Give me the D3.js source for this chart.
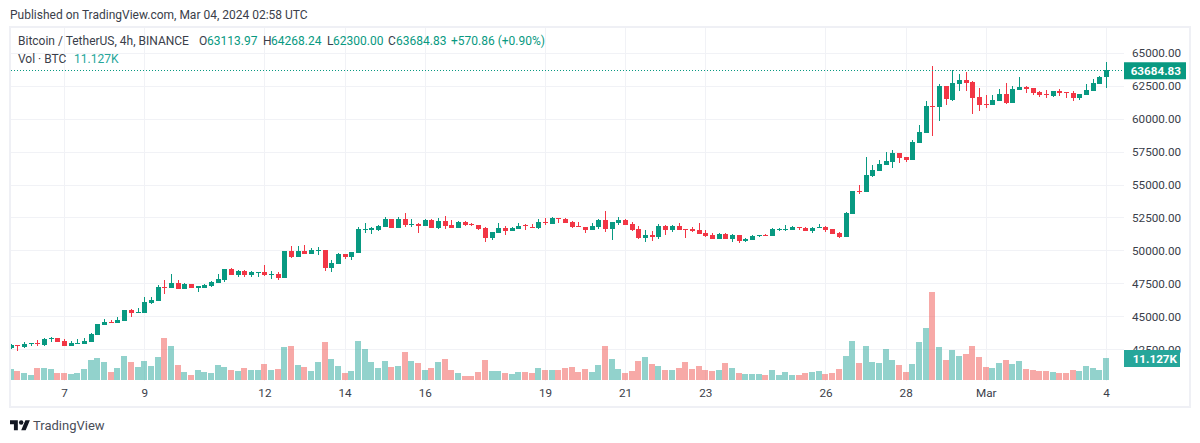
<!DOCTYPE html>
<html>
<head>
<meta charset="utf-8">
<title>BTCUSDT 4h</title>
<script src="https://cdn.jsdelivr.net/npm/d3@7"></script>
<style>
  html, body { margin: 0; padding: 0; background: #fff; }
  svg { display: block; }
  text { font-family: Roboto, sans-serif; }
</style>
</head>
<body>
<div id="chart"></div>
<script>
// 4h candles, oldest first
const opens = [42625,42800,42680,42900,42980,42850,43300,43360,43130,42750,
  42930,42900,43055,43590,44340,44570,44500,44650,45480,45250,
  45250,46010,46160,47220,47150,47520,47070,47450,47170,47150,
  47300,47520,47750,48590,48130,48430,48130,48330,48360,48130,
  48200,47900,49950,49500,49950,49720,49950,50030,48660,48960,
  49720,49500,49800,51540,51540,51540,51770,52370,51690,52370,
  51920,52000,51840,52300,51690,52220,51920,51690,52150,52000,
  51920,51690,50930,51310,51690,51460,51620,51920,51770,51690,
  52150,52000,52450,52370,52150,51840,51770,51540,51770,52300,
  51620,52070,52300,52000,51620,50930,51160,51010,51840,51540,
  51840,51620,51620,51540,51310,51160,50860,51240,50860,51160,
  50710,50780,51090,51160,51090,51540,51540,51540,51770,51690,
  51460,51690,51770,51620,51310,51010,52760,54490,54420,55640,
  56020,56470,56700,57390,57080,56850,58150,58910,60970,60890,
  62490,61430,62650,62950,62800,61650,61120,61050,61350,61880,
  61200,62190,62420,62340,62040,61880,61730,62110,62040,61960,
  61580,61810,62110,62650,63113.97];
const highs = [42900,42800,43030,42950,43180,43360,43460,43360,43260,43130,
  43260,43330,43710,44420,44800,44720,44950,45480,45550,45630,
  46440,46440,47370,47750,48200,47750,47520,47450,47270,47450,
  47680,48200,48590,48660,48510,48510,48430,48400,48890,48430,
  48360,49950,50330,50330,50400,50180,50250,50030,49270,49800,
  49720,49870,51770,52070,51770,51920,52520,52370,52520,52830,
  52370,52070,52370,52370,52450,52600,52300,52220,52220,52070,
  51920,51770,51390,52070,51840,51770,52070,52000,52000,52370,
  52450,52520,52450,52450,52220,52150,51770,52070,52370,52980,
  52150,52520,52370,52150,51840,51540,51460,51990,51920,51920,
  52070,51620,51770,52070,51540,51310,51310,51310,51240,51160,
  50930,51160,51160,51240,51690,51690,51920,51840,51770,51770,
  51770,52000,51840,51620,51390,52900,54490,54950,57080,56470,
  56850,57460,57620,57390,57080,58380,59520,61350,64020,62650,
  62490,63710,63410,63560,62870,62340,61810,61810,62260,62720,
  62490,63180,62490,62340,62110,62190,62110,62260,62040,62110,
  61880,62650,63030,63250,64268.24];
const lows = [42500,42400,42600,42750,42750,42750,43080,43055,42750,42750,
  42930,42900,43055,43590,44340,44500,44500,44650,44950,45250,
  45250,45930,46160,46700,47150,47070,47070,47150,46840,47150,
  47220,47520,47600,48130,47980,47980,47980,47980,48050,47830,
  47750,47900,49420,49500,49720,49720,49650,48430,48360,48960,
  49340,49270,49800,51310,51240,51460,51770,51690,51690,51770,
  51770,51310,51840,51690,51620,51620,51690,51690,51840,51840,
  51540,50630,50780,51310,51160,51460,51620,51540,51690,51620,
  51920,52000,52070,52070,51690,51770,51310,51540,51620,51390,
  50780,51920,51920,51460,50860,50630,50710,50860,51160,51390,
  51540,50930,51390,51240,51010,50860,50860,50860,50630,50550,
  50630,50780,51010,51090,51090,51460,51460,51540,51540,51460,
  51310,51690,51390,51240,50930,51010,52760,54260,54420,55560,
  56020,56470,56240,56630,56700,56850,58150,58910,58680,59830,
  61050,61350,62110,62110,60360,60590,60820,61050,61350,61120,
  61200,62190,61960,61810,61650,61580,61650,61730,61580,61350,
  61430,61810,62110,62650,62300];
const closes = [42828,42760,42880,42950,42900,43260,43350,43055,42750,42950,
  42980,43130,43640,44420,44600,44500,44720,45480,45250,45330,
  46080,46240,47220,47150,47520,47070,47450,47150,47270,47370,
  47600,47830,48590,48130,48430,48130,48360,48400,48130,48200,
  47900,49950,49500,49950,49720,50030,50030,48660,49040,49720,
  49500,49870,51620,51620,51690,51840,52370,51690,52370,51920,
  52000,51840,52300,51690,52220,51840,51690,52150,51920,51920,
  51620,50930,51390,51690,51460,51690,51840,51840,51690,52150,
  52070,52450,52370,52070,51770,51770,51540,51840,52300,51620,
  52150,52300,51920,51540,50930,51160,51010,51840,51540,51840,
  51540,51540,51460,51240,51090,50860,51240,50860,51160,50710,
  50860,51090,51160,51090,51620,51620,51620,51770,51690,51460,
  51690,51770,51540,51240,51010,52840,54490,54420,55710,56090,
  56550,56780,57390,57010,56850,58230,58990,60970,60890,62490,
  61500,62720,62950,62720,61580,61050,61050,61430,61880,61200,
  62260,62420,62260,61960,61810,61810,62110,61960,61960,61580,
  61880,62190,62720,63180,63684.83];
// volume in thousands of BTC
const volumes = [5.5,4.5,3.5,2.5,6,6,5.5,3.5,3.5,3,
  3.5,5.5,10,11,9,4,6,12,9,6.5,
  9.5,7,11.5,21,17,7.5,4,2.5,5,4,
  3.5,7.5,6.5,5,4.5,6,5,5,8,5,
  5.5,16.5,17,7.5,6.5,4.5,9,19,10.5,7,
  3.5,4.5,19.5,15.5,9,6,9.5,6.5,7,14,
  9.5,8.5,5,6,9,10.5,5,3.5,2,2,
  4,10,4.5,4.5,3.5,3,4,4,3.5,6,
  5,5,5,6,6.5,4,5.5,4,7.5,17,
  10.5,5.5,3.5,4.5,9.5,11.5,8,7,5,5,
  6,9,5.5,7,5,4.5,5,8.5,6,3.5,
  3,3,3,2.5,5,2.5,4,2.5,2.5,3.5,
  4,4.5,3,3.5,5.5,12,19.5,8.5,17,9,
  8.5,15.5,10,7.5,4,8,19,26,44,16.5,
  10,15,12,13,17,11.5,6.5,6,8.5,10,
  8,9.5,5.5,5,4.5,4.5,4,3.5,3.5,5,
  4.5,7,6,5,11.127];

// candle index of each day label on the time axis
const dayIndex = [8,20,38,50,62,80,92,104,122,134,146,164];
const dayLabels = ["7","9","12","14","16","19","21","23","26","28","Mar","4"];
const priceTicks = [65000,62500,60000,57500,55000,52500,50000,47500,45000,42500];

const lastClose = 63684.83;
const w = 1200, h = 443;
const plotLeft = 11, plotTop = 28, plotRight = 1124, frameRight = 1190, volBase = 380, frameBottom = 407;
const fontPx = 11.7;

const upColor = "#089981", downColor = "#f23645";
const upVol = "rgba(38,166,154,0.5)", downVol = "rgba(239,83,80,0.5)";
const gridColor = "#f1f2f6", frameColor = "#eff0f5", textColor = "#3a3e4a";

const x = d3.scaleLinear().domain([0, 164]).range([10.6, 1106]);
const y = d3.scaleLinear().domain([42500, 65000]).range([349.4, 52.6]);
const yVol = d3.scaleLinear().domain([0, 44]).range([volBase, volBase - 88]);

const svg = d3.select("#chart").append("svg").attr("width", w).attr("height", h);

svg.append("defs").append("clipPath").attr("id", "plot")
  .append("rect").attr("x", plotLeft).attr("y", plotTop).attr("width", plotRight - plotLeft).attr("height", volBase - plotTop + 1);

// outer frame
svg.append("rect")
  .attr("x", 10).attr("y", 27).attr("width", frameRight - 10).attr("height", frameBottom - 27)
  .attr("fill", "none").attr("stroke", frameColor).attr("stroke-width", 2);

// grid
const yGrid = svg.append("g").attr("transform", "translate(" + plotLeft + ",0)")
  .call(d3.axisRight(y).tickValues(priceTicks).tickSize(plotRight - plotLeft).tickFormat(""));
yGrid.select(".domain").remove();
yGrid.selectAll("line").attr("stroke", gridColor).attr("shape-rendering", "crispEdges");

const xGrid = svg.append("g").attr("transform", "translate(0," + plotTop + ")")
  .call(d3.axisBottom(x).tickValues(dayIndex).tickSize(volBase - plotTop + 1).tickFormat(""));
xGrid.select(".domain").remove();
xGrid.selectAll("line").attr("stroke", gridColor).attr("shape-rendering", "crispEdges");

const idx = d3.range(opens.length);
const plot = svg.append("g").attr("clip-path", "url(#plot)");

// volume
plot.append("g").selectAll("rect").data(idx).enter().append("rect")
  .attr("x", i => Math.round(x(i)) - 3)
  .attr("y", i => yVol(volumes[i]))
  .attr("width", 6)
  .attr("height", i => volBase - yVol(volumes[i]))
  .attr("fill", i => closes[i] >= opens[i] ? upVol : downVol)
  .attr("shape-rendering", "crispEdges");

// wicks
plot.append("g").selectAll("line").data(idx).enter().append("line")
  .attr("x1", i => Math.round(x(i)) + 0.5)
  .attr("x2", i => Math.round(x(i)) + 0.5)
  .attr("y1", i => y(highs[i]))
  .attr("y2", i => y(lows[i]))
  .attr("stroke", i => closes[i] >= opens[i] ? upColor : downColor)
  .attr("shape-rendering", "crispEdges");

// bodies
plot.append("g").selectAll("rect").data(idx).enter().append("rect")
  .attr("x", i => Math.round(x(i)) - 2)
  .attr("y", i => y(Math.max(opens[i], closes[i])))
  .attr("width", 5)
  .attr("height", i => Math.max(1, Math.abs(y(opens[i]) - y(closes[i]))))
  .attr("fill", i => closes[i] >= opens[i] ? upColor : downColor)
  .attr("shape-rendering", "crispEdges");

// last price line
svg.append("line")
  .attr("x1", plotLeft).attr("x2", plotRight)
  .attr("y1", Math.round(y(lastClose)) + 0.5).attr("y2", Math.round(y(lastClose)) + 0.5)
  .attr("stroke", upColor).attr("stroke-dasharray", "1 2");

// price axis
const yAxis = svg.append("g").attr("transform", "translate(" + plotRight + ",0)")
  .call(d3.axisRight(y).tickValues(priceTicks).tickSize(0).tickPadding(8).tickFormat(d => d.toFixed(2)));
yAxis.select(".domain").remove();
yAxis.selectAll("text").attr("fill", textColor).style("font-size", fontPx + "px").style("font-family", "Roboto, sans-serif");

// time axis
const xAxis = svg.append("g").attr("transform", "translate(0," + 386 + ")")
  .call(d3.axisBottom(x).tickValues(dayIndex).tickSize(0).tickPadding(3).tickFormat((d, i) => dayLabels[i]));
xAxis.select(".domain").remove();
xAxis.selectAll("text").attr("fill", textColor).style("font-size", fontPx + "px").style("font-family", "Roboto, sans-serif");

// price and volume tags
function tag(yPos, bw, hgt, fill, label, anchorX) {
  svg.append("rect").attr("x", plotRight).attr("y", yPos - hgt / 2).attr("width", bw).attr("height", hgt).attr("fill", fill);
  svg.append("text").attr("x", anchorX).attr("y", yPos + 4).attr("text-anchor", "end")
    .attr("fill", "#fff").attr("font-size", fontPx).attr("font-weight", 700).text(label);
}
tag(y(lastClose) + 0.8, 62, 17, upColor, lastClose.toFixed(2), 1181);
tag(358.5, 56, 17, "#26a69a", "11.127K", 1177);

// header and legend
function label(px, py, str, fill, size) {
  svg.append("text").attr("x", px).attr("y", py).attr("fill", fill).attr("font-size", size || 12).text(str);
}
label(10, 19, "Published on TradingView.com, Mar 04, 2024 02:58 UTC", textColor);
label(18, 45, "Bitcoin / TetherUS, 4h, BINANCE", textColor);
label(199, 45, "O", textColor); label(207, 45, "63113.97", upColor);
label(263, 45, "H", textColor); label(271, 45, "64268.24", upColor);
label(327, 45, "L", textColor); label(333, 45, "62300.00", upColor);
label(388, 45, "C", textColor); label(396, 45, "63684.83", upColor);
label(451, 45, "+570.86 (+0.90%)", upColor);
label(18, 63, "Vol \u00b7 BTC", textColor);
label(74, 63, "11.127K", "#26a69a");

// TradingView mark
const logo = svg.append("g").attr("transform", "translate(10,418) scale(0.56)").attr("fill", "#131722");
logo.append("path").attr("d", "M14 22H7V11H0V4h14v18zM28 22h-8l7.5-18h8L28 22z");
logo.append("circle").attr("cx", 20).attr("cy", 8).attr("r", 4);
label(33, 430, "TradingView", "#4a4e59", 13);
</script>
</body>
</html>
